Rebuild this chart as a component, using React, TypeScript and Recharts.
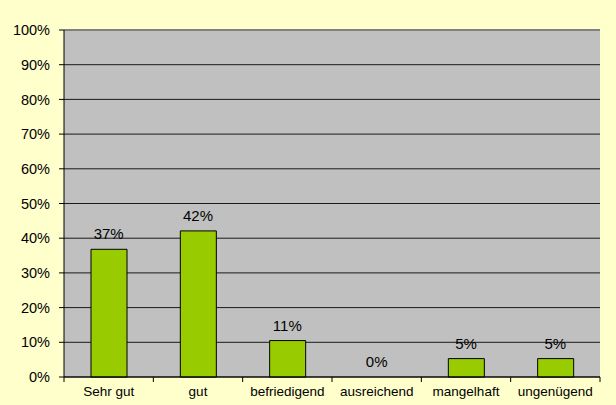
import React from 'react';
import { ComposedChart, Bar, Line, XAxis, YAxis, CartesianGrid, ReferenceLine } from 'recharts';

const categories = ['Sehr gut', 'gut', 'befriedigend', 'ausreichend', 'mangelhaft', 'ungenügend'];
const shares = [36.8, 42.1, 10.5, 0, 5.3, 5.3];
const yTicks = [0, 10, 20, 30, 40, 50, 60, 70, 80, 90, 100];

const data = categories.map((name, i) => ({ name, value: shares[i] }));

const family = 'Arial, "Liberation Sans", sans-serif';
const yFont = { fontFamily: family, fontSize: 14.5, fill: '#000' };

// value labels above bars (drawn via an invisible line so 0 gets a label too)
const TopLabel = (props: any) => {
  const { x, y, value } = props;
  return (
    <text x={x} y={y - 10} textAnchor="middle" fontFamily={family} fontSize={15} fill="#000">
      {`${Math.round(value)}%`}
    </text>
  );
};

// category label plus tick marks at the band edges
const CatTick = (props: any) => {
  const { x, y, payload, index, visibleTicksCount } = props;
  const half = payload.offset || 0;
  const last = index === visibleTicksCount - 1;
  return (
    <g>
      <line x1={x - half} x2={x - half} y1={y} y2={y + 5} stroke="#000" />
      {last && <line x1={x + half} x2={x + half} y1={y} y2={y + 5} stroke="#000" />}
      <text x={x} y={y + 9} dy="0.71em" textAnchor="middle" fontFamily={family} fontSize={13.5} fill="#000">
        {payload.value}
      </text>
    </g>
  );
};

const App: React.FC = () => {
  return (
    <div style={{ position: 'absolute', left: 0, top: 0, width: 616, height: 405, background: '#FFFFCC' }}>
      <ComposedChart width={616} height={405} data={data} margin={{ top: 30, right: 16, left: 0, bottom: 0 }}>
        <CartesianGrid xAxisId="cat" yAxisId="left" fill="#C0C0C0" stroke="#1a1a1a" vertical={false} />
        <XAxis
          xAxisId="cat"
          dataKey="name"
          height={28}
          axisLine={{ stroke: '#000' }}
          tickLine={false}
          tickSize={0}
          tickMargin={0}
          tick={CatTick}
          interval={0}
        />
        <YAxis
          yAxisId="left"
          domain={[0, 100]}
          ticks={yTicks}
          tickFormatter={(v: number) => `${v}%`}
          width={64}
          tick={yFont}
          axisLine={{ stroke: '#000' }}
          tickLine={{ stroke: '#000' }}
          tickSize={5}
          tickMargin={9}
        />
        <YAxis
          yAxisId="right"
          orientation="right"
          domain={[0, 100]}
          width={0}
          tick={false}
          tickLine={false}
          axisLine={{ stroke: '#808080', strokeWidth: 2 }}
        />
        <ReferenceLine yAxisId="left" xAxisId="cat" y={100} stroke="#808080" strokeWidth={2} />
        <Bar
          xAxisId="cat"
          yAxisId="left"
          dataKey="value"
          fill="#99CC00"
          stroke="#000"
          strokeWidth={1}
          barSize={36}
          isAnimationActive={false}
        />
        <Line
          xAxisId="cat"
          yAxisId="left"
          dataKey="value"
          stroke="none"
          dot={false}
          activeDot={false}
          label={TopLabel}
          isAnimationActive={false}
        />
      </ComposedChart>
    </div>
  );
};

export default App;
